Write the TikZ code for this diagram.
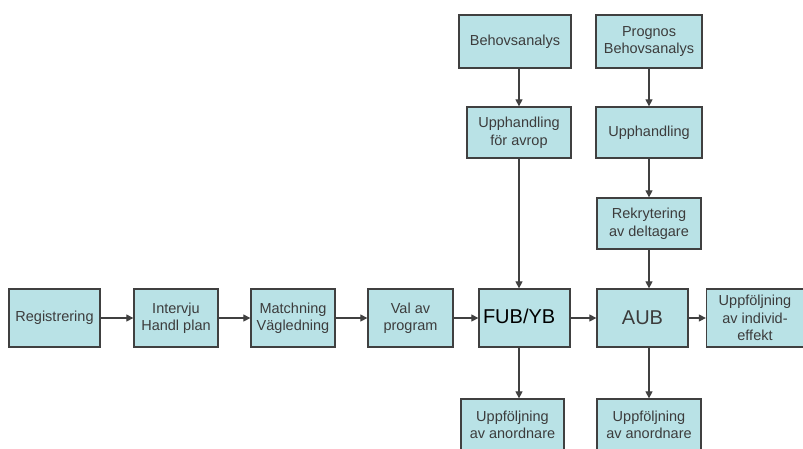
\documentclass[tikz,border=0pt]{standalone}
\usepackage{fontspec}
\setmainfont{Liberation Sans}
\usetikzlibrary{arrows.meta,shadows}
\definecolor{boxfill}{RGB}{185,226,230}
\definecolor{boxline}{RGB}{64,64,64}
\definecolor{boxtext}{RGB}{60,60,60}
\begin{document}
\begin{tikzpicture}[
    x=1pt, y=-1pt,
    box/.style={draw=boxline, line width=1.3pt, fill=boxfill, rectangle, inner sep=0pt,
        align=center, text=boxtext, font=\fontsize{14.5}{17.5}\selectfont,
        minimum width=84pt, minimum height=58pt,
        drop shadow={shadow xshift=1pt, shadow yshift=-1pt, opacity=0.35}},
    big/.style={box, font=\fontsize{20}{24}\selectfont},
    arr/.style={-{Triangle[length=7pt,width=7pt]}, line width=1.2pt, draw=boxline}
]
    \useasboundingbox (0,0) rectangle (803,448);
    \clip (0,0) rectangle (803,448);

    % Main row
    \node[box, minimum width=91pt] (reg) at (54.5,318) {Registrering};
    \node[box] (intv) at (176,318) {Intervju\\Handl plan};
    \node[box] (match) at (293,318) {Matchning\\Vägledning};
    \node[box, minimum width=85pt] (val) at (410.5,318) {Val av\\program};
    \node[big, minimum width=91pt, text=black, text width=83pt, align=left] (fub) at (524.5,318) {\raisebox{3pt}{FUB/YB}};
    \node[big, minimum width=91pt] (aub) at (642.5,318) {AUB};
    \node[box, minimum width=97pt] (uppind) at (755,318) {Uppföljning\\av individ-\\effekt};

    % Left column above FUB/YB
    \node[box, minimum width=112pt, minimum height=53pt] (behov) at (515,41.5) {Behovsanalys};
    \node[box, minimum width=104pt, minimum height=51pt] (upph1) at (519,132.5) {Upphandling\\för avrop};

    % Right column above AUB
    \node[box, minimum width=106pt, minimum height=53pt] (prog) at (649,41.5) {Prognos\\Behovsanalys};
    \node[box, minimum width=106pt, minimum height=51pt] (upph2) at (649,132.5) {Upphandling};
    \node[box, minimum width=104pt, minimum height=51pt] (rekr) at (649,223.5) {Rekrytering\\av deltagare};

    % Follow-up boxes below
    \node[box, minimum width=103pt, minimum height=52pt] (uppl) at (512.5,425) {Uppföljning\\av anordnare};
    \node[box, minimum width=104pt, minimum height=52pt] (uppr) at (649,425) {Uppföljning\\av anordnare};

    % Horizontal flow
    \foreach \a/\b in {reg/intv, intv/match, match/val, val/fub, fub/aub, aub/uppind}
        \draw[arr] (\a.east) -- (\b.west);

    % Vertical flow, left column
    \draw[arr] (behov.south -| upph1.north) -- (upph1.north);
    \draw[arr] (upph1.south) -- (upph1.south |- fub.north);
    \draw[arr] (upph1.south |- fub.south) -- (upph1.south |- uppl.north);

    % Vertical flow, right column
    \draw[arr] (prog.south) -- (upph2.north);
    \draw[arr] (upph2.south) -- (rekr.north);
    \draw[arr] (rekr.south) -- (rekr.south |- aub.north);
    \draw[arr] (rekr.south |- aub.south) -- (rekr.south |- uppr.north);

\end{tikzpicture}
\end{document}
